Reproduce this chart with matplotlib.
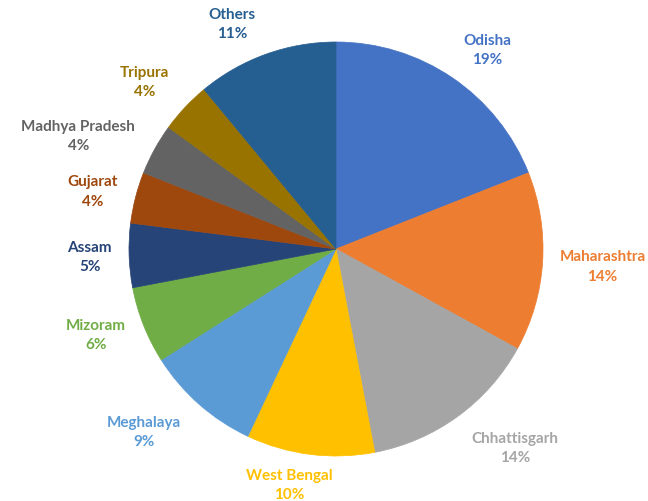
import numpy as np
import matplotlib.pyplot as plt

# share of each state, clockwise from 12 o'clock
states = ['Odisha', 'Maharashtra', 'Chhattisgarh', 'West Bengal', 'Meghalaya',
          'Mizoram', 'Assam', 'Gujarat', 'Madhya Pradesh', 'Tripura', 'Others']
shares = [19, 14, 14, 10, 9, 6, 5, 4, 4, 4, 11]
colors = ['#4472C4', '#ED7D31', '#A5A5A5', '#FFC000', '#5B9BD5',
          '#70AD47', '#264478', '#9E480E', '#636363', '#997300', '#255E91']

# label placement: radius factor and angular nudge (deg) per slice
label_r = [1.21, 1.29, 1.29, 1.16, 1.28, 1.23, 1.19, 1.21, 1.36, 1.23, 1.20]
label_da = [-3, 0, 6, -4, -5, -2, 0, 1, 5, 2, 5]

fig = plt.figure(figsize=(6.48, 5.02), dpi=100)
ax = fig.add_axes([0, 0, 1, 1])
cx, cy, rad = 336, 252, 207
wedges, _ = ax.pie(shares, colors=colors, startangle=90, counterclock=False,
                   center=(cx, cy), radius=rad, frame=True)
# edge each wedge in its own colour so no seams show between slices
for w, col in zip(wedges, colors):
    w.set_edgecolor(col)
    w.set_linewidth(0.5)
ax.set_xlim(0, 648)
ax.set_ylim(0, 502)
ax.axis('off')

for w, name, val, col, rf, da in zip(wedges, states, shares, colors, label_r, label_da):
    mid = np.deg2rad((w.theta1 + w.theta2) / 2 + da)
    x = cx + rad * rf * np.cos(mid)
    y = cy + rad * rf * np.sin(mid)
    ax.text(x, y, '{}\n{}%'.format(name, val), ha='center', va='center',
            color=col, fontsize=11, fontweight='bold', family='Lato',
            linespacing=1.5)

fig.savefig('out.png')
